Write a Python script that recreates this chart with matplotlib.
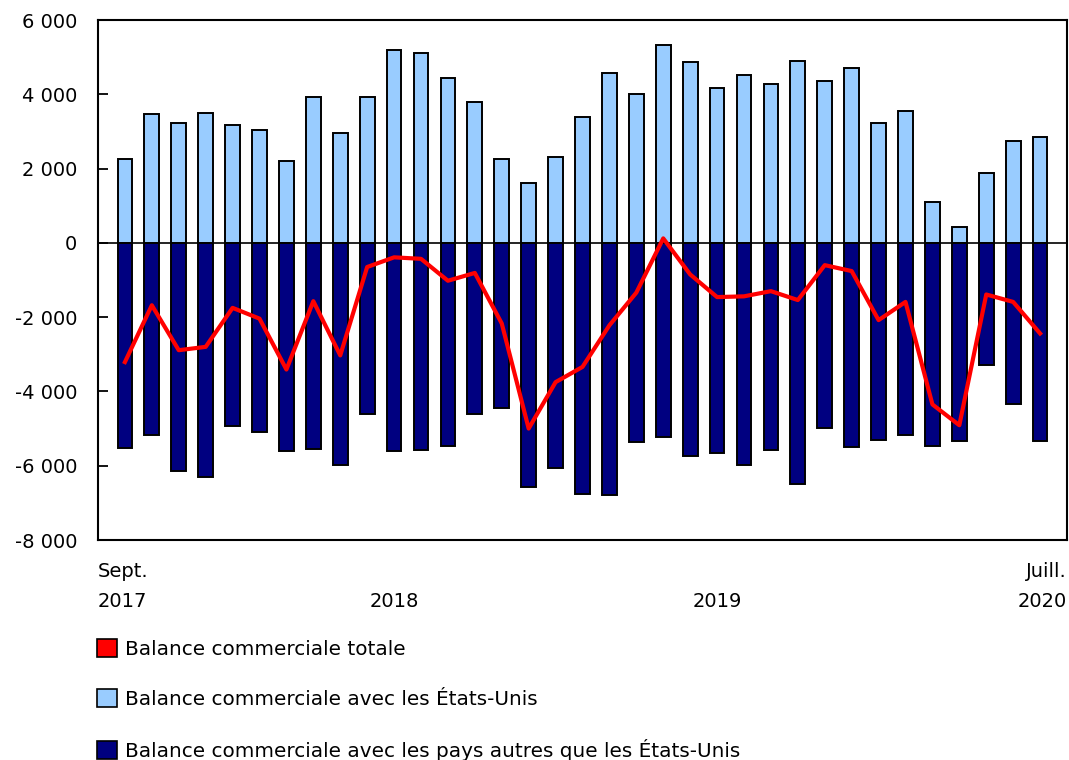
import matplotlib
matplotlib.use('Agg')
import matplotlib.pyplot as plt
from matplotlib.patches import Patch
from matplotlib.transforms import ScaledTranslation
import numpy as np

# Mois de septembre 2017 à juillet 2020 (35 mois)
months = [
    "2017-09", "2017-10", "2017-11", "2017-12",
    "2018-01", "2018-02", "2018-03", "2018-04", "2018-05", "2018-06",
    "2018-07", "2018-08", "2018-09", "2018-10", "2018-11", "2018-12",
    "2019-01", "2019-02", "2019-03", "2019-04", "2019-05", "2019-06",
    "2019-07", "2019-08", "2019-09", "2019-10", "2019-11", "2019-12",
    "2020-01", "2020-02", "2020-03", "2020-04", "2020-05", "2020-06",
    "2020-07",
]

# Balance commerciale avec les États-Unis (millions de dollars)
usa = [
    2270, 3470, 3230, 3490, 3170, 3030, 2200, 3930, 2970, 3940,
    5190, 5120, 4430, 3800, 2260, 1600, 2300, 3380, 4560, 4010,
    5330, 4860, 4180, 4530, 4270, 4900, 4360, 4700, 3220, 3560,
    1100, 420, 1890, 2740, 2860,
]

# Balance commerciale avec les pays autres que les États-Unis
autres = [
    -5520, -5180, -6140, -6300, -4940, -5090, -5600, -5560, -5970, -4620,
    -5610, -5580, -5480, -4620, -4450, -6570, -6070, -6760, -6780, -5370,
    -5220, -5750, -5660, -5970, -5590, -6480, -4980, -5490, -5320, -5170,
    -5460, -5340, -3300, -4350, -5330,
]

# Balance commerciale totale
totale = [
    -3210, -1680, -2890, -2800, -1750, -2040, -3410, -1570, -3030, -650,
    -390, -430, -1020, -810, -2170, -5000, -3750, -3340, -2220, -1340,
    120, -850, -1460, -1440, -1300, -1540, -600, -760, -2080, -1590,
    -4350, -4910, -1390, -1590, -2440,
]

# Étiquettes de l'axe des x : (position, texte, alignement)
xlabels = [(-1, "Sept.\n2017", "left"), (10, "\n2018", "center"),
           (22, "\n2019", "center"), (35, "Juill.\n2020", "right")]

COL_USA = "#99CCFF"
COL_AUTRES = "#000080"
COL_TOTAL = "#FF0000"
FS = 14

plt.rcParams['font.family'] = ['DejaVu Sans']

fig = plt.figure(figsize=(10.69, 7.60), dpi=100)
ax = fig.add_axes([98 / 1069, 1 - 540 / 760, (1067 - 98) / 1069, 520 / 760])

x = np.arange(len(months))
ax.bar(x, usa, width=0.55, color=COL_USA, edgecolor="black", linewidth=1.4, zorder=2)
ax.bar(x, autres, width=0.55, color=COL_AUTRES, edgecolor="black", linewidth=1.4, zorder=2)
ax.axhline(0, color="black", linewidth=1.2, zorder=3)
ax.plot(x, totale, color=COL_TOTAL, linewidth=3, zorder=4)

ax.set_xlim(-1, len(months))
ax.set_ylim(-8000, 6000)
ax.set_yticks(np.arange(-8000, 6001, 2000))
ax.yaxis.set_major_formatter(
    plt.FuncFormatter(lambda v, p: f'{v:,.0f}'.replace(',', ' '))
)
ax.tick_params(axis='y', direction='in', length=7, width=1.3, pad=15,
               labelsize=FS, colors="black")
ax.set_xticks([])
for spine in ax.spines.values():
    spine.set_linewidth(1.5)

# Étiquettes des années sous l'axe
offset = ScaledTranslation(0, -22 / 100, fig.dpi_scale_trans)
for pos, txt, ha in xlabels:
    ax.text(pos, -8000, txt, transform=ax.transData + offset, ha=ha, va="top",
            fontsize=FS, linespacing=1.75)

handles = [
    Patch(facecolor=COL_TOTAL, edgecolor="black", linewidth=1.2),
    Patch(facecolor=COL_USA, edgecolor="black", linewidth=1.2),
    Patch(facecolor=COL_AUTRES, edgecolor="black", linewidth=1.2),
]
labels = [
    "Balance commerciale totale",
    "Balance commerciale avec les États-Unis",
    "Balance commerciale avec les pays autres que les États-Unis",
]
fig.legend(handles, labels, loc="upper left", bbox_to_anchor=(97 / 1069, 1 - 639 / 760),
           frameon=False, fontsize=14.4, handlelength=1.02, handleheight=1.02,
           handletextpad=0.4, labelspacing=1.5, borderaxespad=0, borderpad=0)

fig.savefig("out.png", dpi=100)
